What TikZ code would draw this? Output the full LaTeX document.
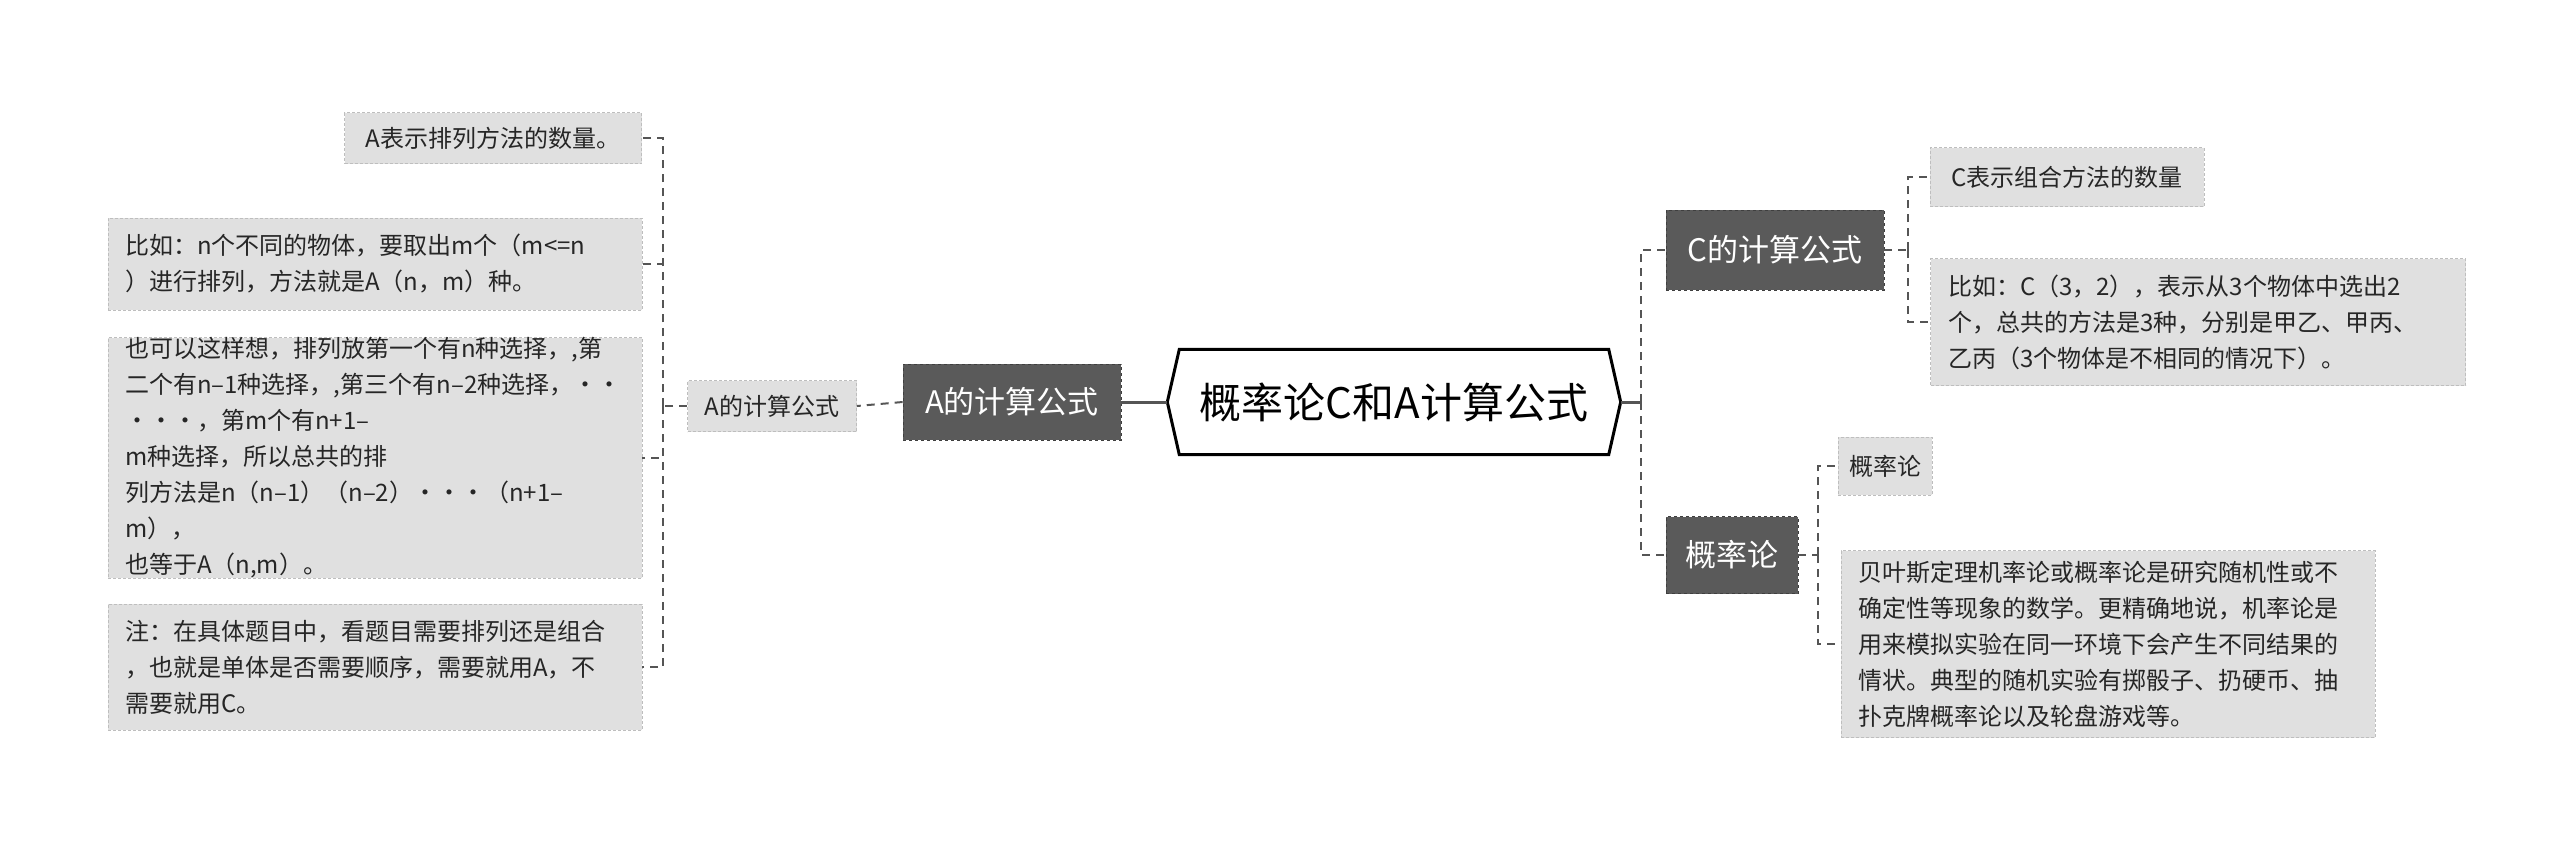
\documentclass[tikz,border=0pt]{standalone}
\usepackage{fontspec}
\setmainfont{Noto Sans CJK SC}
\definecolor{darkbox}{HTML}{5A5A5A}
\definecolor{lightbox}{HTML}{E0E0E0}
\definecolor{linec}{HTML}{555555}
\begin{document}
\begin{tikzpicture}[x=1pt,y=-1pt,
  leaf/.style={fill=lightbox,draw=lightbox!85!black,dashed,dash pattern=on 3pt off 2pt,line width=0.8pt,inner sep=0pt,font=\fontsize{24}{36}\selectfont,text=black!85},
  leaftext/.style={leaf,align=left,text width=#1},
  dark/.style={fill=darkbox,draw=darkbox!70!black,dashed,line width=0.8pt,text=white,inner sep=0pt,font=\fontsize{31}{36}\selectfont},
  conn/.style={draw=linec,line width=2pt,dash pattern=on 8pt off 6pt},
]
\useasboundingbox (0,0) rectangle (2560,844);
% root
\node[inner sep=0pt,minimum width=453pt,minimum height=105pt,font=\fontsize{42}{48}\selectfont] (root) at (1394,402) {概率论C和A计算公式};
\draw[line width=3pt,fill=none] ([xshift=12pt]root.north west) -- ([xshift=-12pt]root.north east) -- (root.east) -- ([xshift=-12pt]root.south east) -- ([xshift=12pt]root.south west) -- (root.west) -- cycle;
% left side
\node[dark,minimum width=218pt,minimum height=76pt] (dA) at (1012,402) {A的计算公式};
\node[leaf,minimum width=169pt,minimum height=51pt] (sA) at (772,406) {A的计算公式};
\node[leaf,minimum width=297pt,minimum height=51pt] (l1) at (493,138) {A表示排列方法的数量。};
\node[leaftext=500pt,minimum width=534pt,minimum height=92pt] (l2) at (375,264) {比如：n个不同的物体，要取出m个（m<=n\\）进行排列，方法就是A（n，m）种。};
\node[leaftext=500pt,minimum width=534pt,minimum height=189pt] (l3) at (375,458) {也可以这样想，排列放第一个有n种选择，,第\\二个有n–1种选择，,第三个有n–2种选择，··\\···，第m个有n+1–m种选择，所以总共的排\\列方法是n（n–1）（n–2）···（n+1–m），\\也等于A（n,m）。};
\node[leaftext=500pt,minimum width=534pt,minimum height=126pt] (l4) at (375,667) {注：在具体题目中，看题目需要排列还是组合\\，也就是单体是否需要顺序，需要就用A，不\\需要就用C。};
\draw[draw=linec,line width=3pt] (root.west) -- (dA.east);
\draw[conn] (dA.west) -- (sA.east);
\coordinate (vl) at (663,406);
\draw[conn] (sA.west) -- (vl);
\foreach \n in {l1,l2,l3,l4} \draw[conn] (vl) |- (\n.east);
% right side
\node[dark,minimum width=218pt,minimum height=80pt] (dC) at (1775,250) {C的计算公式};
\node[dark,minimum width=132pt,minimum height=77pt] (dP) at (1732,555) {概率论};
\node[leaf,minimum width=274pt,minimum height=59pt] (c1) at (2067,177) {C表示组合方法的数量};
\node[leaftext=500pt,minimum width=535pt,minimum height=127pt] (c2) at (2198,322) {比如：C（3，2），表示从3个物体中选出2\\个，总共的方法是3种，分别是甲乙、甲丙、\\乙丙（3个物体是不相同的情况下）。};
\node[leaf,minimum width=94pt,minimum height=58pt] (p1) at (1885,466) {概率论};
\node[leaftext=500pt,minimum width=534pt,minimum height=187pt] (p2) at (2108,644) {贝叶斯定理机率论或概率论是研究随机性或不\\确定性等现象的数学。更精确地说，机率论是\\用来模拟实验在同一环境下会产生不同结果的\\情状。典型的随机实验有掷骰子、扔硬币、抽\\扑克牌概率论以及轮盘游戏等。};
\coordinate (vr) at (1641,402);
\draw[draw=linec,line width=3pt] (root.east) -- (vr);
\draw[conn] (vr) |- (dC.west);
\draw[conn] (vr) |- (dP.west);
\coordinate (vc) at (1908,250);
\draw[conn] (dC.east) -- (vc);
\draw[conn] (vc) |- (c1.west);
\draw[conn] (vc) |- (c2.west);
\coordinate (vp) at (1818,555);
\draw[conn] (dP.east) -- (vp);
\draw[conn] (vp) |- (p1.west);
\draw[conn] (vp) |- (p2.west);
\end{tikzpicture}
\end{document}
